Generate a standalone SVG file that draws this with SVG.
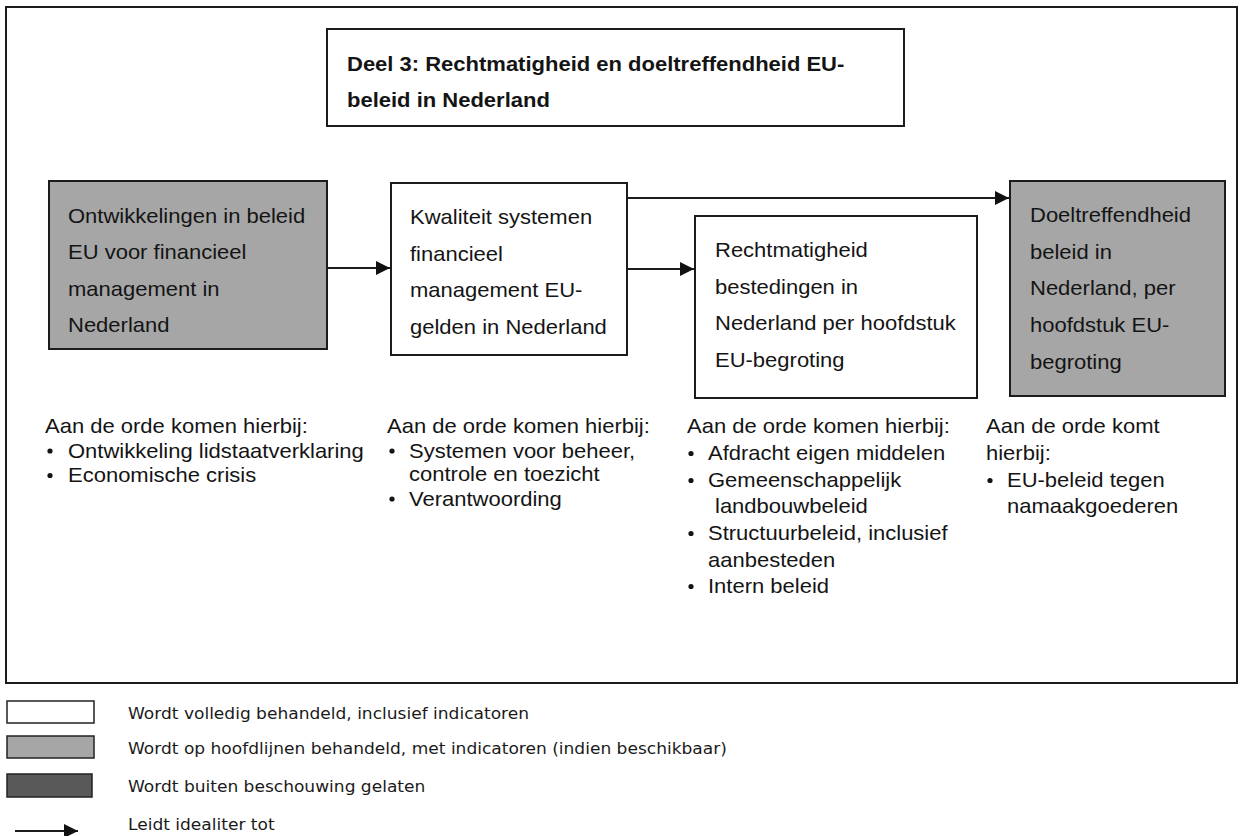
<svg xmlns="http://www.w3.org/2000/svg" width="1242" height="836" viewBox="0 0 1242 836">
<style>
.box{stroke:#1c1c1c;stroke-width:2;}
.w{fill:#ffffff;}
.g{fill:#a6a6a6;}
.d{fill:#595959;}
.t{font-family:"Liberation Sans",Arial,sans-serif;font-size:20px;fill:#141414;}
.b{font-weight:bold;}
.lg{font-family:"DejaVu Sans",Verdana,sans-serif;font-size:15.5px;fill:#1a1a1a;}
.con{stroke:#1c1c1c;stroke-width:2;fill:none;}
.dot{fill:#141414;}
</style>
<defs>
<marker id="ah" markerWidth="14" markerHeight="14" viewBox="0 0 14 14" refX="14" refY="7" orient="auto" markerUnits="userSpaceOnUse">
<path d="M0,0 L14,7 L0,14 Z" fill="#111"/>
</marker>
</defs>
<rect width="1242" height="836" fill="#ffffff"/>
<rect id="frame" x="6" y="7" width="1231" height="676" fill="none" stroke="#1c1c1c" stroke-width="2"/>

<g id="title">
<rect class="box w" x="327" y="29" width="577" height="97"/>
<text class="t b" transform="translate(347,71) scale(1.1,1)"><tspan x="0" y="0">Deel 3: Rechtmatigheid en doeltreffendheid EU-</tspan><tspan x="0" y="36">beleid in Nederland</tspan></text>
</g>

<g id="node1">
<rect class="box g" x="49" y="181" width="278" height="168"/>
<text class="t" transform="translate(68,223) scale(1.1,1)"><tspan x="0" y="0">Ontwikkelingen in beleid</tspan><tspan x="0" y="36.3">EU voor financieel</tspan><tspan x="0" y="72.6">management in</tspan><tspan x="0" y="108.9">Nederland</tspan></text>
</g>

<g id="node2">
<rect class="box w" x="391" y="183" width="236" height="172"/>
<text class="t" transform="translate(410,224) scale(1.1,1)"><tspan x="0" y="0">Kwaliteit systemen</tspan><tspan x="0" y="36.7">financieel</tspan><tspan x="0" y="73.4">management EU-</tspan><tspan x="0" y="110">gelden in Nederland</tspan></text>
</g>

<g id="node3">
<rect class="box w" x="695" y="216" width="282" height="182"/>
<text class="t" transform="translate(715,257) scale(1.1,1)"><tspan x="0" y="0">Rechtmatigheid</tspan><tspan x="0" y="36.7">bestedingen in</tspan><tspan x="0" y="73.4">Nederland per hoofdstuk</tspan><tspan x="0" y="110">EU-begroting</tspan></text>
</g>

<g id="node4">
<rect class="box g" x="1010" y="181" width="215" height="215"/>
<text class="t" transform="translate(1030,222) scale(1.1,1)"><tspan x="0" y="0">Doeltreffendheid</tspan><tspan x="0" y="36.7">beleid in</tspan><tspan x="0" y="73.4">Nederland, per</tspan><tspan x="0" y="110">hoofdstuk EU-</tspan><tspan x="0" y="146.7">begroting</tspan></text>
</g>

<g id="connectors">
<line class="con" x1="327" y1="268" x2="390" y2="268" marker-end="url(#ah)"/>
<line class="con" x1="627" y1="269" x2="694" y2="269" marker-end="url(#ah)"/>
<line class="con" x1="627" y1="198" x2="1009" y2="198" marker-end="url(#ah)"/>
</g>

<g id="list1">
<text class="t" transform="translate(45,433) scale(1.1,1)">Aan de orde komen hierbij:</text>
<circle class="dot" cx="50" cy="451" r="2.6"/>
<text class="t" transform="translate(68,457.5) scale(1.1,1)">Ontwikkeling lidstaatverklaring</text>
<circle class="dot" cx="50" cy="475.5" r="2.6"/>
<text class="t" transform="translate(68,482) scale(1.1,1)">Economische crisis</text>
</g>

<g id="list2">
<text class="t" transform="translate(387,433) scale(1.1,1)">Aan de orde komen hierbij:</text>
<circle class="dot" cx="392" cy="451" r="2.6"/>
<text class="t" transform="translate(409,457.5) scale(1.1,1)"><tspan x="0" y="0">Systemen voor beheer,</tspan><tspan x="0" y="24">controle en toezicht</tspan></text>
<circle class="dot" cx="392" cy="499" r="2.6"/>
<text class="t" transform="translate(409,505.5) scale(1.1,1)">Verantwoording</text>
</g>

<g id="list3">
<text class="t" transform="translate(687,433) scale(1.1,1)">Aan de orde komen hierbij:</text>
<circle class="dot" cx="691" cy="453.5" r="2.6"/>
<text class="t" transform="translate(708,460) scale(1.1,1)">Afdracht eigen middelen</text>
<circle class="dot" cx="691" cy="480.5" r="2.6"/>
<text class="t" transform="translate(708,487) scale(1.1,1)">Gemeenschappelijk</text>
<text class="t" transform="translate(715,513) scale(1.1,1)">landbouwbeleid</text>
<circle class="dot" cx="691" cy="533.5" r="2.6"/>
<text class="t" transform="translate(708,540) scale(1.1,1)"><tspan x="0" y="0">Structuurbeleid, inclusief</tspan><tspan x="0" y="27">aanbesteden</tspan></text>
<circle class="dot" cx="691" cy="586.5" r="2.6"/>
<text class="t" transform="translate(708,593) scale(1.1,1)">Intern beleid</text>
</g>

<g id="list4">
<text class="t" transform="translate(986,433) scale(1.1,1)"><tspan x="0" y="0">Aan de orde komt</tspan><tspan x="0" y="27">hierbij:</tspan></text>
<circle class="dot" cx="990" cy="480.5" r="2.6"/>
<text class="t" transform="translate(1007,487) scale(1.1,1)"><tspan x="0" y="0">EU-beleid tegen</tspan><tspan x="0" y="26">namaakgoederen</tspan></text>
</g>

<g id="legend">
<rect x="7" y="701" width="87" height="22" fill="#ffffff" stroke="#222" stroke-width="1.5"/>
<rect x="7" y="736" width="87" height="22" fill="#a6a6a6" stroke="#222" stroke-width="1.5"/>
<rect x="7" y="774" width="85" height="23" fill="#595959" stroke="#222" stroke-width="1.5"/>
<line class="con" x1="15" y1="831" x2="78" y2="831" marker-end="url(#ah)"/>
<text class="lg" transform="translate(128,719) scale(1.1,1)">Wordt volledig behandeld, inclusief indicatoren</text>
<text class="lg" transform="translate(128,754) scale(1.1,1)">Wordt op hoofdlijnen behandeld, met indicatoren (indien beschikbaar)</text>
<text class="lg" transform="translate(128,792) scale(1.1,1)">Wordt buiten beschouwing gelaten</text>
<text class="lg" transform="translate(128,830) scale(1.1,1)">Leidt idealiter tot</text>
</g>
</svg>
